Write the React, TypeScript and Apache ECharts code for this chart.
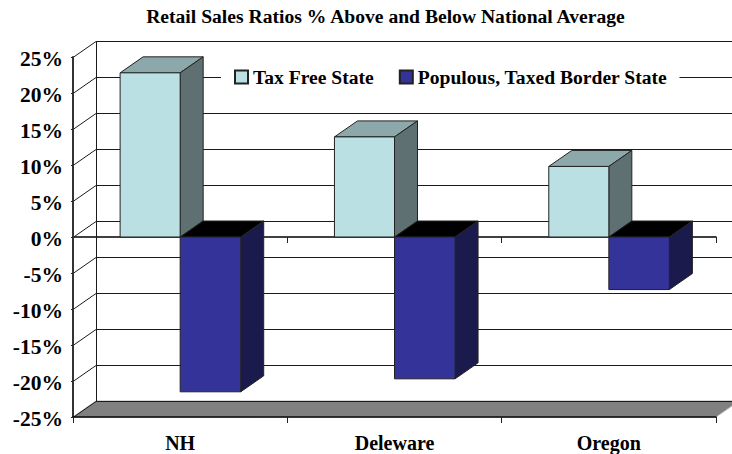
import React, { useEffect, useRef } from "react";
import * as echarts from "echarts";

const titleText = "Retail Sales Ratios % Above and Below National Average";
const categories = ["NH", "Deleware", "Oregon"];
const seriesNames = ["Tax Free State", "Populous, Taxed Border State"];
const taxFree = [22.8, 13.9, 9.8];
const taxed = [-21.5, -19.7, -7.3];
const yTicks = [25, 20, 15, 10, 5, 0, -5, -10, -15, -20, -25];

const FONT = "'Liberation Serif', 'Times New Roman', serif";
const DX = 23;
const DY = 16;
const BAR_SHARE = 0.2825;

function box(x0: number, x1: number, yTop: number, yBottom: number, front: string, top: string, side: string) {
  const stroke = { stroke: "#222", lineWidth: 1 };
  return [
    { type: "polygon", shape: { points: [[x0, yTop], [x1, yTop], [x1 + DX, yTop - DY], [x0 + DX, yTop - DY]] }, style: { fill: top, ...stroke } },
    { type: "polygon", shape: { points: [[x1, yTop], [x1 + DX, yTop - DY], [x1 + DX, yBottom - DY], [x1, yBottom]] }, style: { fill: side, ...stroke } },
    { type: "polygon", shape: { points: [[x0, yTop], [x1, yTop], [x1, yBottom], [x0, yBottom]] }, style: { fill: front, ...stroke } },
  ];
}

function barRenderer(positive: boolean) {
  return (_p: any, api: any) => {
    const idx = api.value(0);
    const val = api.value(1);
    const base = api.coord([idx, 0]);
    const end = api.coord([idx, val]);
    const w = api.size([1, 0])[0] * BAR_SHARE;
    const children = positive
      ? box(base[0] - w + 0.5, base[0], end[1], base[1], "#bbe0e3", "#8ca8aa", "#5e7071")
      : box(base[0], base[0] + w, base[1], end[1], "#333399", "#000000", "#1a1a4d");
    return { type: "group", children };
  };
}

function wallRenderer(params: any, api: any) {
  const r = params.coordSys;
  const v = api.value(1);
  const y = Math.round(api.coord([0, v])[1]);
  const left = r.x;
  const right = r.x + r.width;
  const line = { stroke: "#1a1a1a", lineWidth: 1 };
  const children: any[] = [];
  if (v === yTicks[yTicks.length - 1]) {
    children.push({
      type: "polygon",
      shape: { points: [[left, y], [left + DX, y - DY], [right + DX, y - DY], [right, y]] },
      style: { fill: "#808080", stroke: "#b0b0b0", lineWidth: 1 },
    });
    children.push({
      type: "line",
      shape: { x1: left + DX + 0.5, y1: r.y - DY, x2: left + DX + 0.5, y2: y - DY },
      style: line,
    });
  }
  children.push({
    type: "line",
    shape: { x1: left + DX, y1: y - DY + 0.5, x2: right + DX, y2: y - DY + 0.5 },
    style: line,
  });
  children.push({
    type: "line",
    shape: { x1: left, y1: y + 0.5, x2: left + DX, y2: y - DY + 0.5 },
    style: line,
  });
  return { type: "group", children };
}

export default function App() {
  const ref = useRef<HTMLDivElement>(null);
  useEffect(() => {
    const chart = echarts.init(ref.current!, null, { renderer: "svg" });
    chart.setOption({
      animation: false,
      backgroundColor: "#ffffff",
      title: {
        text: titleText,
        left: 380.5,
        top: 1,
        textAlign: "center",
        textStyle: { fontFamily: FONT, fontWeight: "bold", fontSize: 19.6, color: "#000" },
      },
      legend: {
        left: 221,
        top: 63,
        data: seriesNames,
        selectedMode: false,
        icon: "rect",
        itemWidth: 13,
        itemHeight: 13,
        itemGap: 25,
        padding: [4, 12, 4, 13],
        backgroundColor: "#ffffff",
        textStyle: { fontFamily: FONT, fontWeight: "bold", fontSize: 19.6, color: "#000", padding: [2, 0, 0, 0] },
      },
      grid: { left: 73, width: 643, top: 57, height: 360 },
      xAxis: [
        {
          type: "category",
          data: categories,
          position: "bottom",
          z: 3,
          axisLine: { onZero: false, lineStyle: { color: "#000", width: 1.5 } },
          axisTick: { show: true, length: 6, lineStyle: { color: "#222", width: 1 } },
          axisLabel: { fontFamily: FONT, fontWeight: "bold", fontSize: 20, color: "#000", margin: 16 },
        },
        {
          type: "category",
          data: categories,
          position: "bottom",
          z: 0,
          axisLine: { onZero: true, onZeroAxisIndex: 0, lineStyle: { color: "#000", width: 1.5 } },
          axisTick: { show: true, length: 6, lineStyle: { color: "#222", width: 1 } },
          axisLabel: { show: false },
        },
      ],
      yAxis: {
        type: "value",
        min: -25,
        max: 25,
        interval: 5,
        z: 3,
        axisLine: { show: true, onZero: false, lineStyle: { color: "#333", width: 2 } },
        axisTick: { show: true, length: 2, lineStyle: { color: "#222", width: 1 } },
        splitLine: { show: false },
        axisLabel: {
          formatter: "{value}%",
          fontFamily: FONT,
          fontWeight: "bold",
          fontSize: 21.5,
          color: "#000",
          margin: 10,
          verticalAlign: "top",
          lineHeight: 4,
        },
      },
      series: [
        {
          name: "walls",
          type: "custom",
          z: 1,
          clip: false,
          silent: true,
          renderItem: wallRenderer,
          encode: { x: 0, y: 1 },
          data: yTicks.map((t) => [0, t]),
        },
        {
          name: seriesNames[0],
          type: "custom",
          z: 2,
          clip: false,
          itemStyle: { color: "#bbe0e3", borderColor: "#222", borderWidth: 1 },
          renderItem: barRenderer(true),
          encode: { x: 0, y: 1 },
          data: taxFree.map((v, i) => [i, v]),
        },
        {
          name: seriesNames[1],
          type: "custom",
          z: 2,
          clip: false,
          itemStyle: { color: "#333399", borderColor: "#222", borderWidth: 1 },
          renderItem: barRenderer(false),
          encode: { x: 0, y: 1 },
          data: taxed.map((v, i) => [i, v]),
        },
      ],
    });
    return () => chart.dispose();
  }, []);
  return <div ref={ref} style={{ position: "absolute", left: 0, top: 0, width: 732, height: 454 }} />;
}
